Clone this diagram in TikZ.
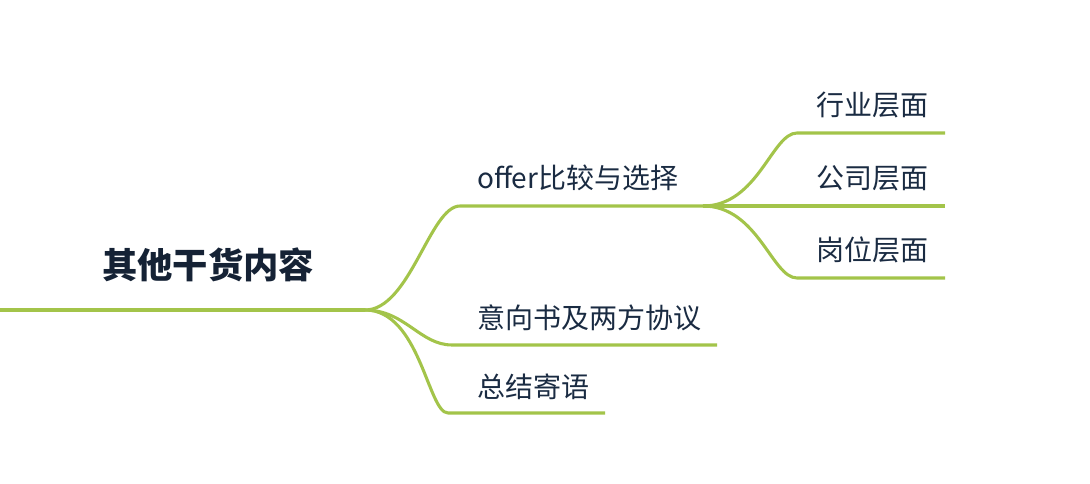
\documentclass[tikz,border=0pt]{standalone}
\usepackage{fontspec}
\setmainfont{Noto Sans CJK SC}
\definecolor{twig}{HTML}{A3C44A}
\definecolor{ink}{HTML}{1A2B42}
\tikzset{
	twig/.style={draw=twig, line width=2.3pt},
	topic/.style={font=\fontsize{21}{21}\selectfont, text=ink, inner sep=0pt},
	root/.style={font=\fontsize{26.5}{27}\selectfont\bfseries, text=ink!80!black, inner sep=0pt}
}
\begin{document}
\begin{tikzpicture}[x=0.75pt, y=-0.75pt, line join=round]
	\useasboundingbox (0,0) rectangle (1090,484);
	\path
	(0,310) coordinate (S) (60,310) coordinate (S')
	(365,310) coordinate (J)
	(460,206) coordinate (O) (703,206) coordinate (O')
	(452,345) coordinate (Y) (717,345) coordinate (Y')
	(448,413) coordinate (Z) (605,413) coordinate (Z')
	(797,133) coordinate (H) (945,133) coordinate (H')
	(945,206) coordinate (G')
	(797,278) coordinate (P) (945,278) coordinate (P');
	\node[root] (main) at (208,265) {其他干货内容};
	\node[topic, anchor=west] (offer) at (477,178) {offer比较与选择};
	\node[topic, anchor=west] (yxs) at (477,318) {意向书及两方协议};
	\node[topic, anchor=west] (zj) at (477,387) {总结寄语};
	\node[topic, anchor=east] (hy) at (929,105) {行业层面};
	\node[topic, anchor=east] (gs) at (929,178) {公司层面};
	\node[topic, anchor=east] (gw) at (929,250) {岗位层面};
	\draw[twig, line width=3.6pt] (S) -- (S');
	\draw[twig] (S') -- (J);
	\draw[twig] (J) .. controls (410,310) and (430,206) .. (O) -- (O');
	\draw[twig] (J) .. controls (405,310) and (420,345) .. (Y) -- (Y');
	\draw[twig] (J) .. controls (420,310) and (428,413) .. (Z) -- (Z');
	\draw[twig] (O') .. controls (758,206) and (772,133) .. (H) -- (H');
	\draw[twig] (O') -- (G');
	\draw[twig] (O') .. controls (758,206) and (772,278) .. (P) -- (P');
\end{tikzpicture}
\end{document}
